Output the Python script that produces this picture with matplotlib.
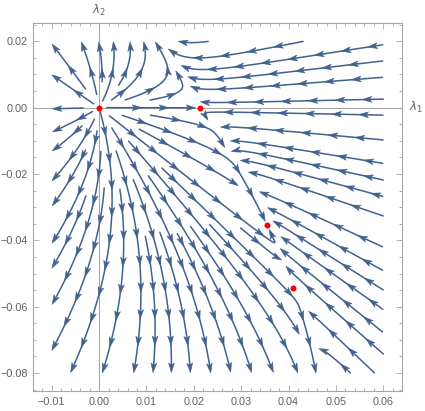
import numpy as np
import matplotlib
matplotlib.use("Agg")
import matplotlib.pyplot as plt
from matplotlib.patches import Polygon
from matplotlib.collections import LineCollection, PatchCollection

# ---- data ----
fp_x = [0.0, 0.0213, 0.0355, 0.0410]      # fixed points (red dots), lambda1
fp_y = [0.0, 0.0, -0.0355, -0.0545]       # fixed points (red dots), lambda2
x_ticks = [-0.01, 0.0, 0.01, 0.02, 0.03, 0.04, 0.05, 0.06]
x_labels = ["\u22120.01", "0.00", "0.01", "0.02", "0.03", "0.04", "0.05", "0.06"]
y_ticks = [-0.08, -0.06, -0.04, -0.02, 0.0, 0.02]
y_labels = ["\u22120.08", "\u22120.06", "\u22120.04", "\u22120.02", "0.00", "0.02"]
region_x = [-0.01, 0.06]
region_y = [-0.08, 0.02]

# ---- flow with these fixed points:
# dx = x - a x^2 - b x y - c y^2 ; dy = y - d y^2 - e x y
a = 1.0 / fp_x[1]
M1 = np.array([[fp_y[2], fp_x[2]], [fp_y[3], fp_x[3]]])
d, e = np.linalg.solve(M1, [1.0, 1.0])
M2 = np.array([[fp_x[2] * fp_y[2], fp_y[2] ** 2], [fp_x[3] * fp_y[3], fp_y[3] ** 2]])
rhs = [fp_x[2] - a * fp_x[2] ** 2, fp_x[3] - a * fp_x[3] ** 2]
b, c = np.linalg.solve(M2, rhs)


def flow(x, y):
    return x - a * x * x - b * x * y - c * y * y, y - d * y * y - e * x * y


COL = "#41618f"
GRAY = "#a6a6a6"
TXT = "#606060"

fig = plt.figure(figsize=(4.25, 4.11), dpi=100)
ax = fig.add_axes([33.3 / 425, 1 - 391 / 411, (402.3 - 33.3) / 425, (391 - 22.7) / 411])
ax.set_xlim(-0.01389, 0.0640)
ax.set_ylim(-0.0854, 0.0256)
fig.canvas.draw()

T = ax.transData
p0 = T.transform((0.0, 0.0))
p1 = T.transform((1.0, 1.0))
sx, sy = p1[0] - p0[0], p1[1] - p0[1]


def to_px(x, y):
    return p0[0] + x * sx, p0[1] + y * sy


def to_data(px, py):
    return (px - p0[0]) / sx, (py - p0[1]) / sy


RX0, RY0 = to_px(region_x[0], region_y[0])
RX1, RY1 = to_px(region_x[1], region_y[1])
fpp = [to_px(x, y) for x, y in zip(fp_x, fp_y)]


def direction(px, py):
    x, y = to_data(px, py)
    f, g = flow(x, y)
    u, v = f * sx, g * sy
    n = np.hypot(u, v)
    if n == 0:
        return 0.0, 0.0
    return u / n, v / n


DSEP = 16.0
DTEST = 7.5
CELL = DTEST
grid = {}


def near_other(px, py, dist):
    ci, cj = int(px // CELL), int(py // CELL)
    r = int(np.ceil(dist / CELL))
    for i in range(ci - r, ci + r + 1):
        for j in range(cj - r, cj + r + 1):
            for (qx, qy) in grid.get((i, j), ()):
                if (qx - px) ** 2 + (qy - py) ** 2 < dist * dist:
                    return True
    return False


def valid(px, py):
    if px < RX0 or px > RX1 or py < RY0 or py > RY1:
        return False
    for fx, fy in fpp:
        if (px - fx) ** 2 + (py - fy) ** 2 < 16.0:
            return False
    return True


def integrate(px, py, sign, maxsteps=500):
    pts = []
    h = 1.0
    for _ in range(maxsteps):
        u1, v1 = direction(px, py)
        mx, my = px + 0.5 * h * sign * u1, py + 0.5 * h * sign * v1
        u2, v2 = direction(mx, my)
        nx, ny = px + h * sign * u2, py + h * sign * v2
        if (u2 * u1 + v2 * v1) < 0.3:
            break
        if not valid(nx, ny) or near_other(nx, ny, DTEST):
            break
        pts.append((nx, ny))
        px, py = nx, ny
    return pts


lines = []


def add_line(sx0, sy0):
    if not valid(sx0, sy0) or near_other(sx0, sy0, DSEP * 0.9):
        return None
    fw = integrate(sx0, sy0, 1.0)
    bw = integrate(sx0, sy0, -1.0)
    pts = bw[::-1] + [(sx0, sy0)] + fw
    if len(pts) < 12:
        return None
    for (qx, qy) in pts:
        grid.setdefault((int(qx // CELL), int(qy // CELL)), []).append((qx, qy))
    arr = np.array(pts)
    lines.append(arr)
    return arr


# seed candidates: coarse-to-fine grid
seeds = []
for step in (4 * DSEP, 2 * DSEP, DSEP):
    for gx in np.arange(RX0 + step / 2, RX1, step):
        for gy in np.arange(RY0 + step / 2, RY1, step):
            seeds.append((gx, gy))

queue = []
si = 0
while si < len(seeds) or queue:
    if queue:
        s = queue.pop(0)
    else:
        s = seeds[si]
        si += 1
    arr = add_line(*s)
    if arr is None:
        continue
    for k in range(0, len(arr) - 1, 8):
        tx, ty = arr[min(k + 1, len(arr) - 1)] - arr[max(k - 1, 0)]
        n = np.hypot(tx, ty)
        if n == 0:
            continue
        nx, ny = -ty / n, tx / n
        queue.append((arr[k][0] + DSEP * nx, arr[k][1] + DSEP * ny))
        queue.append((arr[k][0] - DSEP * nx, arr[k][1] - DSEP * ny))

# ---- draw streamlines with arrowheads ----
segs = []
heads = []
SPACE = 27.0
HL, HW, NOTCH = 9.5, 2.9, 2.3
for arr in lines:
    ds = np.hypot(*np.diff(arr, axis=0).T)
    s = np.concatenate([[0], np.cumsum(ds)])
    L = s[-1]
    keep = s <= L - 3.0
    la = arr[keep]
    if len(la) >= 2:
        dx, dy = to_data(la[:, 0], la[:, 1])
        segs.append(np.column_stack([dx, dy]))
    sk = L
    while sk > 11.0:
        tipx = np.interp(sk, s, arr[:, 0])
        tipy = np.interp(sk, s, arr[:, 1])
        bx = np.interp(sk - 4.0, s, arr[:, 0])
        by = np.interp(sk - 4.0, s, arr[:, 1])
        tx, ty = tipx - bx, tipy - by
        n = np.hypot(tx, ty)
        if n > 0:
            tx, ty = tx / n, ty / n
            nx, ny = -ty, tx
            poly_px = [
                (tipx, tipy),
                (tipx - HL * tx + HW * nx, tipy - HL * ty + HW * ny),
                (tipx - (HL - NOTCH) * tx, tipy - (HL - NOTCH) * ty),
                (tipx - HL * tx - HW * nx, tipy - HL * ty - HW * ny),
            ]
            poly = [to_data(qx, qy) for qx, qy in poly_px]
            heads.append(Polygon(poly, closed=True))
        sk -= SPACE

ax.axhline(0, color=GRAY, lw=0.8, zorder=1)
ax.axvline(0, color=GRAY, lw=0.8, zorder=1)

ax.add_collection(LineCollection(segs, colors=COL, linewidths=1.1, capstyle="round", zorder=2))
ax.add_collection(PatchCollection(heads, facecolor=COL, edgecolor=COL, linewidths=0.4, zorder=3))

ax.plot(fp_x, fp_y, "o", color="#ff0000", ms=4.3, mec="none", zorder=4)

# ---- frame & ticks ----
for sp in ax.spines.values():
    sp.set_color(GRAY)
    sp.set_linewidth(0.8)
ax.set_xticks(x_ticks)
ax.set_xticklabels(x_labels)
ax.set_yticks(y_ticks)
ax.set_yticklabels(y_labels)
ax.set_xticks(np.arange(-0.012, 0.0641, 0.002), minor=True)
ax.set_yticks(np.arange(-0.085, 0.0251, 0.005), minor=True)
ax.tick_params(which="both", direction="in", top=True, right=True, color=GRAY,
               width=0.6, labelcolor=TXT, labelsize=7.8)
ax.tick_params(which="major", length=4, pad=4)
ax.tick_params(which="minor", length=2.3)
for lab in ax.get_xticklabels() + ax.get_yticklabels():
    lab.set_family("Liberation Sans")

ax.text(1.0 + 7 / 369, 0.0, r"$\lambda_1$", transform=ax.get_yaxis_transform(),
        ha="left", va="center", color=TXT, fontsize=8.5)
ax.text(0.0, 1.0 + 12 / 368, r"$\lambda_2$", transform=ax.get_xaxis_transform(),
        ha="center", va="center", color=TXT, fontsize=8.5)

fig.savefig("out.png", dpi=100)
